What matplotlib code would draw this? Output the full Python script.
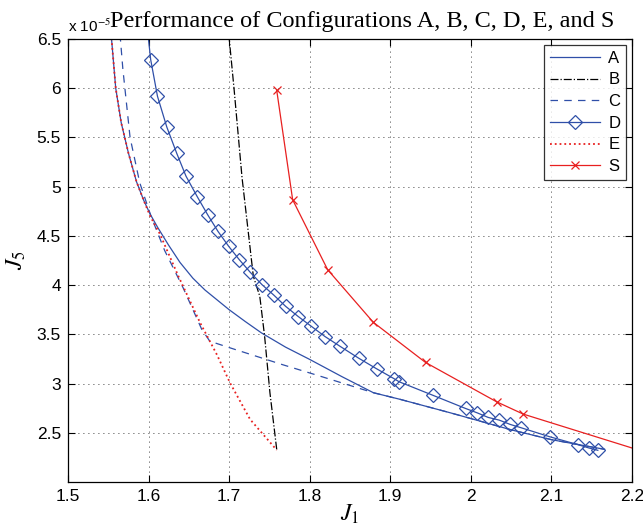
import matplotlib
matplotlib.use("Agg")
import matplotlib.pyplot as plt

# values of J5 are in units of 1e-5
a_j1 = [1.552, 1.554, 1.5592, 1.566, 1.575, 1.585, 1.594, 1.602, 1.611, 1.6245,
        1.639, 1.655, 1.670, 1.685, 1.700, 1.720, 1.740, 1.770, 1.800, 1.840,
        1.879, 1.912, 1.974, 2.050, 2.100, 2.166]
a_j5 = [6.60, 6.50, 6.00, 5.65, 5.34, 5.05, 4.86, 4.72, 4.59, 4.41,
        4.23, 4.07, 3.95, 3.85, 3.75, 3.63, 3.515, 3.37, 3.245, 3.07,
        2.907, 2.84, 2.704, 2.53, 2.43, 2.332]

b_j1 = [1.6995, 1.706, 1.716, 1.730, 1.738, 1.744, 1.7506, 1.759]
b_j5 = [6.55, 6.00, 5.09, 4.09, 3.887, 3.48, 2.907, 2.332]

c_j1 = [1.5645, 1.568, 1.577, 1.589, 1.603, 1.620, 1.643, 1.666, 1.676,
        1.701, 1.767, 1.813, 1.866, 1.879, 1.912, 1.974, 2.050, 2.100, 2.166]
c_j5 = [6.55, 6.20, 5.50, 5.04, 4.70, 4.35, 3.97, 3.55, 3.43,
        3.363, 3.19, 3.075, 2.94, 2.907, 2.84, 2.704, 2.53, 2.43, 2.332]

d_j1 = [1.5965, 1.6026, 1.611, 1.6225, 1.635, 1.6464, 1.6604, 1.6733, 1.6861,
        1.6994, 1.7125, 1.7262, 1.7407, 1.7556, 1.770, 1.7857, 1.8019, 1.8189,
        1.8375, 1.8607, 1.883, 1.9048, 1.911, 1.9525, 1.9934, 2.0074, 2.0215,
        2.0351, 2.0488, 2.062, 2.0977, 2.1331, 2.1468, 2.1576]
d_j5 = [6.75, 6.29, 5.919, 5.608, 5.337, 5.107, 4.898, 4.715, 4.546,
        4.394, 4.259, 4.130, 4.005, 3.897, 3.785, 3.681, 3.582, 3.478,
        3.379, 3.258, 3.150, 3.049, 3.018, 2.882, 2.747, 2.704, 2.656,
        2.629, 2.585, 2.552, 2.460, 2.379, 2.345, 2.322]

e_j1 = [1.551, 1.554, 1.5592, 1.566, 1.575, 1.585, 1.594, 1.602, 1.614, 1.637,
        1.664, 1.685, 1.701, 1.726, 1.759]
e_j5 = [6.60, 6.50, 6.00, 5.65, 5.34, 5.05, 4.86, 4.70, 4.52, 4.09,
        3.617, 3.29, 3.008, 2.636, 2.325]

s_j1 = [1.759, 1.7788, 1.8222, 1.8788, 1.9438, 2.0319, 2.0649, 2.21]
s_j5 = [5.98, 4.867, 4.157, 3.623, 3.214, 2.815, 2.690, 2.32]

x_ticks = [1.5, 1.6, 1.7, 1.8, 1.9, 2.0, 2.1, 2.2]
x_labels = ["1.5", "1.6", "1.7", "1.8", "1.9", "2", "2.1", "2.2"]
y_ticks = [2.5, 3, 3.5, 4, 4.5, 5, 5.5, 6, 6.5]
y_labels = ["2.5", "3", "3.5", "4", "4.5", "5", "5.5", "6", "6.5"]

blue = "#2f4fa8"
red = "#e82020"

plt.rcParams["font.family"] = "Liberation Sans"
plt.rcParams["mathtext.fontset"] = "stix"

fig = plt.figure(figsize=(6.43, 5.25), dpi=100)
ax = fig.add_axes([0.1058, 0.0819, 0.8771, 0.8438])

ax.plot(a_j1, a_j5, "-", color=blue, lw=0.9, label="A")
ax.plot(b_j1, b_j5, "-.", color="black", lw=0.9, label="B")
ax.plot(c_j1, c_j5, "--", color=blue, lw=0.9, dashes=(6, 5), label="C")
ax.plot(d_j1, d_j5, "-", color=blue, lw=0.9, marker="D", ms=7.5,
        mfc="none", mec=blue, mew=0.9, label="D")
ax.plot(e_j1, e_j5, ":", color=red, lw=1.3, label="E")
ax.plot(s_j1, s_j5, "-", color=red, lw=0.9, marker="x", ms=6,
        mew=0.9, label="S")

ax.set_xlim(1.5, 2.2)
ax.set_ylim(2.0, 6.5)
ax.set_xticks(x_ticks)
ax.set_xticklabels(x_labels)
ax.set_yticks(y_ticks)
ax.set_yticklabels(y_labels)
ax.tick_params(direction="in", top=True, right=True, labelsize=12.5,
               length=5, pad=5)
ax.grid(True, linestyle=(0, (1, 5)), color="black", lw=0.6)
for sp in ax.spines.values():
    sp.set_linewidth(0.9)

ax.set_xlabel("$J_1$", fontsize=17, labelpad=-1)
ax.set_ylabel("$J_5$", fontsize=17, labelpad=6)

# exponent note in the top-left corner, MATLAB style
ax.text(0.0, 1.016, "x 10$^{-5}$", transform=ax.transAxes, fontsize=11,
        ha="left", va="baseline")
ax.text(0.074, 1.027, "Performance of Configurations A, B, C, D, E, and S",
        transform=ax.transAxes, fontsize=17.5, family="Liberation Serif",
        ha="left", va="baseline")

leg = ax.legend(loc="upper right", fontsize=12, frameon=True, fancybox=False,
                edgecolor="black", handlelength=3.0, borderaxespad=0.35,
                borderpad=0.35, labelspacing=0.4, handletextpad=0.5)
leg.get_frame().set_linewidth(0.9)

fig.savefig("out.png", dpi=100)
